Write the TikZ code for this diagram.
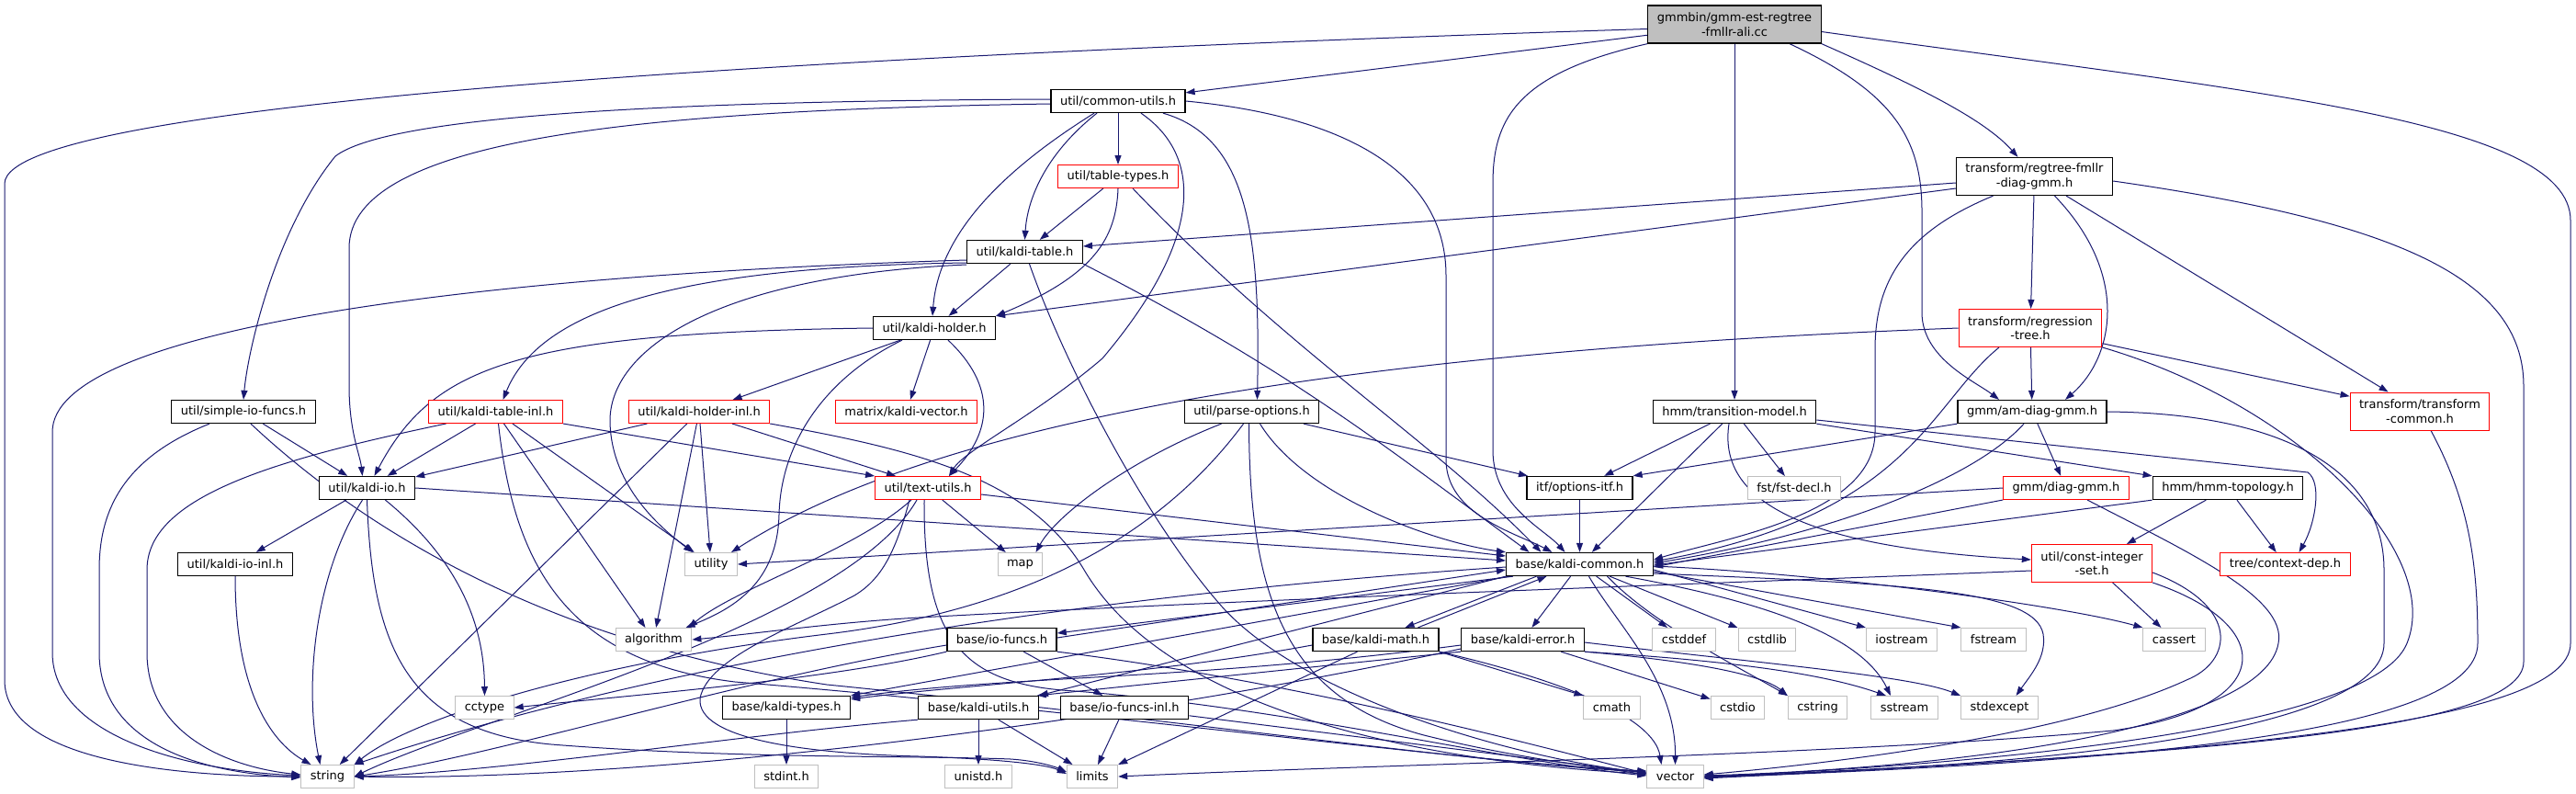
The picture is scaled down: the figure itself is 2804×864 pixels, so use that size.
\documentclass[tikz,border=0pt]{standalone}
\usepackage{fontspec}
\setmainfont{DejaVu Sans}
\usetikzlibrary{arrows.meta}
\definecolor{edgec}{HTML}{191970}
\definecolor{grayb}{HTML}{BFBFBF}
\pgfdeclarelayer{back}
\pgfdeclarelayer{edges}
\pgfsetlayers{back,edges,main}
\begin{document}
\begin{tikzpicture}[x=1pt,y=-1pt,
  box/.style={font=\fontsize{13pt}{15.5pt}\selectfont, inner xsep=10pt, inner ysep=0pt,
    minimum height=25pt, line width=1pt, fill=white, text=black, anchor=center},
  bn/.style={box, draw=black, line width=1.3pt},
  rn/.style={box, draw=red},
  gn/.style={box, draw=grayb},
  two/.style={align=center, minimum height=41pt},
  e/.style={draw=edgec, line width=1pt, -{Triangle[length=10pt,width=7pt]}}]
\begin{pgfonlayer}{back}
\fill[white] (0,0) rectangle (2804,864);
\end{pgfonlayer}
\useasboundingbox (0,0) rectangle (2804,864);

% ---------- nodes ----------
\node[bn,two,fill=grayb] (T) at (1888,26.5) {gmmbin/gmm-est-regtree\\-fmllr-ali.cc};
\node[bn] (CU) at (1217,110) {util/common-utils.h};
\node[rn] (TT) at (1217,192) {util/table-types.h};
\node[bn] (KT) at (1115.5,274) {util/kaldi-table.h};
\node[bn] (KH) at (1017,357) {util/kaldi-holder.h};
\node[bn,two] (RF) at (2214.5,192) {transform/regtree-fmllr\\-diag-gmm.h};
\node[rn,two] (RT) at (2210,357) {transform/regression\\-tree.h};

\node[bn] (SIO) at (265,448) {util/simple-io-funcs.h};
\node[rn] (KTI) at (539.5,448) {util/kaldi-table-inl.h};
\node[rn] (KHI) at (761,448) {util/kaldi-holder-inl.h};
\node[rn] (KV) at (986.5,448) {matrix/kaldi-vector.h};
\node[bn] (PO) at (1362.5,448) {util/parse-options.h};
\node[bn] (TM) at (1888,448) {hmm/transition-model.h};
\node[bn] (AM) at (2212,448) {gmm/am-diag-gmm.h};
\node[rn,two] (TC) at (2634,447.5) {transform/transform\\-common.h};

\node[bn] (KIO) at (399.5,531) {util/kaldi-io.h};
\node[rn] (TU) at (1010,531) {util/text-utils.h};
\node[bn] (OI) at (1719.5,531) {itf/options-itf.h};
\node[gn] (FST) at (1953,531) {fst/fst-decl.h};
\node[rn] (DG) at (2249,531) {gmm/diag-gmm.h};
\node[bn] (HT) at (2425,531) {hmm/hmm-topology.h};

\node[bn] (KIOI) at (256,614) {util/kaldi-io-inl.h};
\node[gn] (UT) at (774,614) {utility};
\node[gn] (MAP) at (1110.5,614) {map};
\node[bn] (KC) at (1719.5,614) {base/kaldi-common.h};
\node[rn,two] (CIS) at (2277,613) {util/const-integer\\-set.h};
\node[rn] (CD) at (2487.5,614) {tree/context-dep.h};

\node[gn] (ALG) at (711.5,696) {algorithm};
\node[bn] (IOF) at (1090.5,696) {base/io-funcs.h};
\node[bn] (KM) at (1497.5,696) {base/kaldi-math.h};
\node[bn] (KE) at (1657.5,696) {base/kaldi-error.h};
\node[gn] (CSTDDEF) at (1833,696) {cstddef};
\node[gn] (CSTDLIB) at (1923.5,696) {cstdlib};
\node[gn] (IOSTREAM) at (2070,696) {iostream};
\node[gn] (FSTREAM) at (2170,696) {fstream};
\node[gn] (CASSERT) at (2366.5,696) {cassert};

\node[gn] (CCTYPE) at (527.5,770) {cctype};
\node[bn] (KTY) at (856,770) {base/kaldi-types.h};
\node[bn] (KU) at (1065,770) {base/kaldi-utils.h};
\node[bn] (IOFI) at (1224,770) {base/io-funcs-inl.h};
\node[gn] (CMATH) at (1754.5,770) {cmath};
\node[gn] (CSTDIO) at (1891.5,770) {cstdio};
\node[gn] (CSTRING) at (1978.5,770) {cstring};
\node[gn] (SSTREAM) at (2073,770) {sstream};
\node[gn] (STDEXCEPT) at (2176.5,770) {stdexcept};

\node[gn] (STRING) at (356.5,845) {string};
\node[gn] (STDINT) at (856,845) {stdint.h};
\node[gn] (UNISTD) at (1065,845) {unistd.h};
\node[gn] (LIMITS) at (1189,845) {limits};
\node[gn] (VECTOR) at (1823.5,845) {vector};

% ---------- edges ----------
\begin{pgfonlayer}{edges}
% top node
\draw[e] ([yshift=-5pt]T.west) .. controls (900,60) and (5,110) .. (5,200) -- (5,740) .. controls (5,830) and (200,845) .. (STRING.west);
\draw[e] (T) -- (CU);
\draw[e] (T.south west) .. controls (1650,80) and (1625,130) .. (1625,200) -- (1625,490) .. controls (1625,550) and (1680,575) .. ([xshift=-16pt]KC.north);
\draw[e] (T) -- (TM);
\draw[e] ([xshift=60pt]T.south) .. controls (2060,100) and (2092,150) .. (2092,230) -- (2092,340) .. controls (2092,390) and (2150,415) .. ([xshift=-36pt]AM.north);
\draw[e] (T.south east) .. controls (2090,95) and (2160,130) .. ([xshift=-18pt]RF.north);
\draw[e] ([yshift=-8pt]T.east) .. controls (2450,100) and (2798,130) .. (2798,240) -- (2798,700) .. controls (2798,790) and (2400,820) .. ([yshift=-2pt]VECTOR.east);

% common-utils
\draw[e] ([yshift=2pt]CU.west) .. controls (700,110) and (420,128) .. (365,170) .. controls (300,250) and (270,380) .. (SIO.north);
\draw[e] ([yshift=-3pt]CU.west) .. controls (700,120) and (380,150) .. (380,270) -- (380,420) .. controls (380,470) and (392,495) .. ([xshift=-5pt]KIO.north);
\draw[e] (CU) -- (TT);
\draw[e] ([xshift=-23pt]CU.south) .. controls (1135,170) and (1118,220) .. (KT.north);
\draw[e] ([xshift=-26pt]CU.south) .. controls (1100,180) and (1022,250) .. ([xshift=-2pt]KH.north);
\draw[e] ([xshift=25pt]CU.south) .. controls (1310,170) and (1310,260) .. (1200,390) .. controls (1130,450) and (1050,490) .. ([xshift=23pt]TU.north);
\draw[e] ([xshift=49pt]CU.south) .. controls (1360,150) and (1372,260) .. ([xshift=6pt]PO.north);
\draw[e] (CU.east) .. controls (1450,125) and (1574,180) .. (1574,300) -- (1574,500) .. controls (1574,560) and (1650,580) .. ([xshift=-30pt]KC.north);

% table-types
\draw[e] (TT) -- (KT);
\draw[e] (TT.south) .. controls (1215,260) and (1190,300) .. (KH.north east);
\draw[e] ([xshift=16pt]TT.south) .. controls (1400,380) and (1560,480) .. ([xshift=-42pt]KC.north);

% kaldi-table
\draw[e] (KT) -- (KH);
\draw[e] ([yshift=-12pt]KT.west) .. controls (760,290) and (590,330) .. ([xshift=8pt]KTI.north);
\draw[e] ([yshift=-14pt]KT.west) .. controls (780,300) and (662,380) .. (664,460) .. controls (666,530) and (720,575) .. ([xshift=-20pt]UT.north);
\draw[e] ([yshift=-9pt]KT.west) .. controls (500,300) and (57,360) .. (57,470) -- (57,710) .. controls (57,800) and (200,838) .. ([yshift=1pt]STRING.west);
\draw[e] (KT.south east) .. controls (1400,400) and (1500,480) .. ([xshift=-55pt]KC.north);
\draw[e] ([xshift=5pt]KT.south) .. controls (1160,400) and (1250,570) .. (1330,660) .. controls (1420,760) and (1650,825) .. ([yshift=4pt]VECTOR.west);

% kaldi-holder
\draw[e] (KH.west) .. controls (560,362) and (470,400) .. ([xshift=8pt]KIO.north);
\draw[e] (KH) -- (KHI);
\draw[e] ([xshift=-35pt]KH.south) .. controls (900,410) and (850,480) .. (848,560) .. controls (846,640) and (790,665) .. ([xshift=35pt]ALG.north);
\draw[e] (KH) -- (KV);
\draw[e] ([xshift=15pt]KH.south) .. controls (1085,420) and (1080,470) .. ([xshift=23pt]TU.north);

% regtree-fmllr-diag-gmm
\draw[e] ([yshift=-7pt]RF.west) -- ([yshift=6pt]KT.east);
\draw[e] ([yshift=-13pt]RF.west) -- (KH.north east);
\draw[e] (RF) -- (RT);
\draw[e] ([xshift=22pt]RF.south) .. controls (2320,300) and (2300,390) .. ([xshift=36pt]AM.north);
\draw[e] (RF) -- (TC);
\draw[e] ([yshift=-5pt]RF.east) .. controls (2600,240) and (2747,300) .. (2747,420) -- (2747,720) .. controls (2747,795) and (2400,820) .. ([yshift=-1pt]VECTOR.east);
\draw[e] ([xshift=-45pt]RF.south) .. controls (2080,250) and (2041,300) .. (2041,380) -- (2041,470) .. controls (2041,560) and (1880,585) .. ([yshift=5pt]KC.east);

% regression-tree
\draw[e] (RT.west) .. controls (1400,385) and (1000,470) .. ([xshift=22pt]UT.north);
\draw[e] (RT) -- (AM);
\draw[e] (RT) -- (TC);
\draw[e] ([xshift=-34pt]RT.south) .. controls (2100,440) and (2080,560) .. ([yshift=3pt]KC.east);
\draw[e] (RT.south east) .. controls (2500,440) and (2660,600) .. (2620,700) .. controls (2580,800) and (2100,835) .. (VECTOR.east);

% transform-common
\draw[e] ([xshift=12pt]TC.south) .. controls (2690,550) and (2697,620) .. (2697,700) .. controls (2697,800) and (2300,830) .. ([yshift=-1pt]VECTOR.east);

% am-diag-gmm
\draw[e] (AM.south west) -- (OI.north east);
\draw[e] ([xshift=-9pt]AM.south) .. controls (2150,520) and (2000,580) .. ([yshift=1pt]KC.east);
\draw[e] (AM) -- (DG);
\draw[e] (AM.east) .. controls (2500,450) and (2595,520) .. (2595,620) -- (2595,700) .. controls (2595,800) and (2200,835) .. (VECTOR.east);

% transition-model
\draw[e] (TM) -- (OI);
\draw[e] (TM) -- (KC);
\draw[e] (TM) -- (FST);
\draw[e] (TM.south east) -- (HT.north west);
\draw[e] ([yshift=-9pt]TM.east) -- (2512,514) .. controls (2528,525) and (2520,570) .. ([xshift=15pt]CD.north);
\draw[e] ([xshift=-6pt]TM.south) .. controls (1870,540) and (1950,595) .. ([yshift=4pt]CIS.west);

% hmm-topology
\draw[e] (HT.south west) -- ([yshift=-1pt]KC.east);
\draw[e] (HT) -- (CIS);
\draw[e] (HT) -- (CD);

% diag-gmm
\draw[e] (DG.west) -- (UT.east);
\draw[e] (DG.south west) -- ([yshift=-3pt]KC.east);
\draw[e] ([xshift=23pt]DG.south) .. controls (2380,600) and (2490,650) .. (2480,700) .. controls (2465,790) and (2150,835) .. ([yshift=1pt]VECTOR.east);

% const-integer-set
\draw[e] ([yshift=-8pt]CIS.west) .. controls (1950,632) and (1400,650) .. (1000,672) .. controls (900,678) and (820,690) .. (ALG.east);
\draw[e] (CIS) -- (CASSERT);
\draw[e] ([yshift=-10pt]CIS.east) .. controls (2440,660) and (2430,720) .. (2380,740) .. controls (2250,800) and (2000,830) .. ([yshift=2pt]VECTOR.east);
\draw[e] (CIS.south east) .. controls (2480,680) and (2480,770) .. (2300,795) .. controls (2000,822) and (1500,832) .. (LIMITS.east);

% kaldi-common
\draw[e] ([xshift=8pt]KC.south west) -- ([yshift=7pt]IOF.east);
\draw[e] ([yshift=2pt]IOF.east) -- ([yshift=-6pt]KC.west);
\draw[e] ([xshift=-47pt]KC.south) -- ([xshift=32pt]KM.north);
\draw[e] ([xshift=46pt]KM.north) -- ([xshift=-36pt]KC.south);
\draw[e] (KC) -- (KE);
\draw[e] (KC) -- (CSTDDEF);
\draw[e] (KC) -- (CSTDLIB);
\draw[e] ([yshift=-6pt]KC.east) -- (IOSTREAM.north west);
\draw[e] ([yshift=-8pt]KC.east) -- (FSTREAM.north west);
\draw[e] ([yshift=-2pt]KC.east) .. controls (2000,625) and (2250,660) .. (CASSERT.north west);
\draw[e] ([xshift=30pt]KC.south) .. controls (1800,680) and (1900,730) .. (CSTRING.north west);
\draw[e] ([xshift=50pt]KC.south) .. controls (1950,660) and (2030,700) .. ([xshift=-15pt]SSTREAM.north);
\draw[e] ([yshift=-10pt]KC.east) .. controls (2060,635) and (2215,640) .. (2224,690) .. controls (2228,715) and (2210,735) .. ([xshift=18pt]STDEXCEPT.north);
\draw[e] ([xshift=10pt]KC.south) .. controls (1760,680) and (1824,740) .. (VECTOR.north);
\draw[e] ([yshift=-3pt]KC.west) .. controls (1000,660) and (600,760) .. (STRING.north east);
\draw[e] (KC.south west) -- (KU.north east);
\draw[e] ([xshift=4pt]KC.south west) -- (KTY.north east);

% kaldi-error
\draw[e] (KE.south west) -- ([xshift=-2pt]KU.north east);
\draw[e] ([yshift=-6pt]KE.west) .. controls (1300,740) and (1100,735) .. ([yshift=-2pt]KTY.north east);
\draw[e] ([yshift=-10pt]KE.west) .. controls (1200,790) and (700,850) .. (STRING.east);
\draw[e] (KE) -- (CSTDIO);
\draw[e] (KE.south east) .. controls (1850,720) and (1920,735) .. (CSTRING.north west);
\draw[e] (KE.south east) .. controls (1900,720) and (1990,735) .. ([xshift=-20pt]SSTREAM.north);
\draw[e] ([yshift=-3pt]KE.east) .. controls (1900,720) and (2080,735) .. (STDEXCEPT.north west);

% kaldi-math
\draw[e] (KM.south east) -- (CMATH.north west);
\draw[e] ([xshift=-20pt]KM.south) -- (LIMITS.north east);
\draw[e] (KM.south east) .. controls (1700,740) and (1800,780) .. ([xshift=-15pt]VECTOR.north);
\draw[e] ([yshift=-6pt]KM.west) .. controls (1250,735) and (1050,745) .. ([yshift=-4pt]KTY.north east);

% io-funcs
\draw[e] (IOF) -- (IOFI);
\draw[e] ([yshift=-6pt]IOF.west) .. controls (800,740) and (550,820) .. (STRING.east);
\draw[e] (IOF.south west) .. controls (900,740) and (700,755) .. (CCTYPE.east);
\draw[e] (IOF.south east) .. controls (1400,740) and (1650,805) .. ([yshift=3pt]VECTOR.west);

% kaldi-utils, io-funcs-inl, kaldi-types
\draw[e] (KU) -- (UNISTD);
\draw[e] (KU) -- (LIMITS);
\draw[e] (KU.south west) .. controls (800,800) and (550,840) .. (STRING.east);
\draw[e] (IOFI) -- (LIMITS);
\draw[e] (IOFI) -- (VECTOR);
\draw[e] (KTY) -- (STDINT);

% parse-options
\draw[e] ([xshift=-33pt]PO.south) .. controls (1230,500) and (1150,560) .. ([xshift=17pt]MAP.north);
\draw[e] ([xshift=-9pt]PO.south) .. controls (1280,560) and (1150,660) .. (900,690) .. controls (650,720) and (450,780) .. (STRING.north east);
\draw[e] ([xshift=-3pt]PO.south) .. controls (1360,650) and (1400,760) .. (1550,800) .. controls (1650,825) and (1740,835) .. ([yshift=2pt]VECTOR.west);
\draw[e] ([xshift=9pt]PO.south) .. controls (1420,540) and (1560,590) .. (KC.north west);
\draw[e] (PO) -- (OI);
\draw[e] (OI) -- (KC);

% kaldi-io
\draw[e] (KIO.east) -- ([yshift=4pt]KC.west);
\draw[e] (KIO) -- (KIOI);
\draw[e] ([xshift=-5pt]KIO.south) .. controls (345,620) and (330,740) .. ([xshift=-8pt]STRING.north);
\draw[e] ([xshift=20pt]KIO.south) .. controls (500,610) and (527,680) .. (CCTYPE.north);
\draw[e] (KIO.south) .. controls (405,700) and (440,795) .. (600,810) .. controls (800,826) and (1000,822) .. (1100,826) .. controls (1130,828) and (1150,835) .. ([yshift=5pt]LIMITS.west);
\draw[e] (KIOI.south) .. controls (256,760) and (300,810) .. ([xshift=-18pt]STRING.north);

% simple-io-funcs
\draw[e] (SIO) -- (KIO);
\draw[e] ([xshift=-37pt]SIO.south) .. controls (130,500) and (108,560) .. (108,620) -- (108,710) .. controls (108,800) and (200,840) .. ([yshift=-1pt]STRING.west);
\draw[e] ([xshift=8pt]SIO.south) .. controls (400,580) and (600,700) .. (900,745) .. controls (1300,785) and (1600,830) .. ([yshift=5pt]VECTOR.west);

% kaldi-table-inl
\draw[e] (KTI) -- (KIO);
\draw[e] ([xshift=-54pt]KTI.south) .. controls (300,500) and (160,540) .. (160,620) -- (160,710) .. controls (160,800) and (250,835) .. ([yshift=2pt]STRING.west);
\draw[e] (KTI) -- (UT);
\draw[e] (KTI) -- (ALG);
\draw[e] (KTI.south east) -- (TU.north west);
\draw[e] ([xshift=3pt]KTI.south) .. controls (560,620) and (620,720) .. (800,742) .. controls (1200,775) and (1600,830) .. ([yshift=6pt]VECTOR.west);

% kaldi-holder-inl
\draw[e] (KHI) -- (KIO);
\draw[e] (KHI) -- (STRING);
\draw[e] (KHI) -- (UT);
\draw[e] (KHI) -- (ALG);
\draw[e] ([xshift=36pt]KHI.south) -- ([xshift=-35pt]TU.north);
\draw[e] (KHI.south east) .. controls (1000,490) and (1120,520) .. (1180,620) .. controls (1280,790) and (1600,832) .. ([yshift=3pt]VECTOR.west);

% text-utils
\draw[e] ([yshift=-7pt]TU.east) -- ([yshift=9pt]KC.west);
\draw[e] (TU) -- (MAP);
\draw[e] ([xshift=-18pt]TU.south) .. controls (930,600) and (800,640) .. ([xshift=38pt]ALG.north);
\draw[e] ([xshift=-12pt]TU.south) .. controls (920,680) and (520,780) .. (STRING.east);
\draw[e] ([xshift=-20pt]TU.south) .. controls (975,600) and (960,630) .. (930,648) .. controls (870,680) and (770,715) .. (762,760) .. controls (758,805) and (880,820) .. (1000,823) .. controls (1090,826) and (1140,832) .. ([yshift=3pt]LIMITS.west);
\draw[e] ([xshift=-4pt]TU.south) .. controls (1005,700) and (1050,745) .. (1170,752) .. controls (1400,770) and (1650,830) .. ([yshift=1pt]VECTOR.west);
\end{pgfonlayer}
\end{tikzpicture}
\end{document}
